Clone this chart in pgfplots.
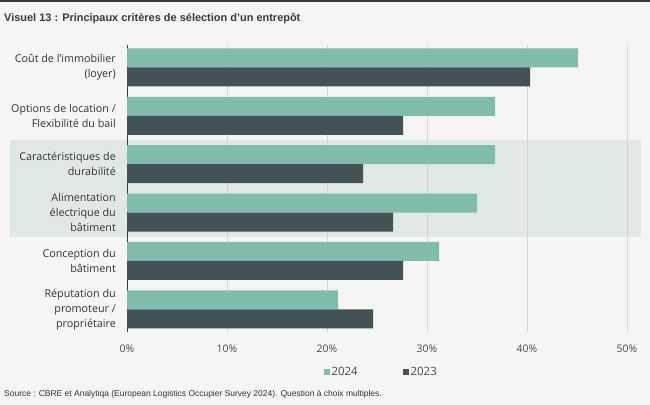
\documentclass[border=0pt]{standalone}
\usepackage{pgfplots}
\pgfplotsset{compat=1.18}
\usepackage{fontspec}
\setmainfont{Open Sans}
\newfontfamily\titlefont{Liberation Sans}
\newfontfamily\srcfont{Liberation Sans}

\definecolor{bgcol}{HTML}{F5F5F5}
\definecolor{bandcol}{HTML}{DFE8E6}
\definecolor{c2024}{HTML}{80BCAB}
\definecolor{c2023}{HTML}{435255}
\definecolor{gridcol}{HTML}{D4D4D4}
\definecolor{axiscol}{HTML}{3A3A3A}
\definecolor{labcol}{HTML}{333333}
\definecolor{tickcol}{HTML}{4A4A4A}

% 0 = Coût ... 5 = Réputation
\pgfplotstableread{
cat v2024 v2023
0 45.1 40.3
1 36.8 27.6
2 36.8 23.6
3 35.0 26.6
4 31.2 27.6
5 21.1 24.6
}\crit

\begin{document}
\begin{tikzpicture}
% page, top rule, highlighted band
\fill[bgcol] (0bp,0bp) rectangle (650bp,-405bp);
\fill[axiscol] (0bp,0bp) rectangle (650bp,-2bp);
\fill[bandcol] (10bp,-140bp) rectangle (641bp,-237bp);

\node[anchor=base west, inner sep=0pt, text=axiscol]
  at (4bp,-21.5bp) {\titlefont\fontsize{11}{13}\selectfont\bfseries Visuel 13 : Principaux critères de sélection d’un entrepôt};

\begin{axis}[
    at={(127bp,-332bp)}, anchor=south west,
    scale only axis,
    width=513bp, height=287bp,
    xbar, bar width=19bp,
    xmin=0, xmax=51.3,
    ymin=-0.465, ymax=5.47,
    y dir=reverse,
    axis line style={draw=none},
    major tick length=0pt,
    xtick={0,10,20,30,40,50},
    xticklabels={0\%,10\%,20\%,30\%,40\%,50\%},
    xmajorgrids,
    grid style={gridcol, line width=0.6bp},
    extra x ticks={0},
    extra x tick labels={},
    extra x tick style={grid style={axiscol, line width=0.8bp}},
    xticklabel style={font=\fontsize{10.5}{12}\selectfont, text=tickcol, inner sep=0pt, yshift=-12.5bp},
    ytick={0,1,2,3,4,5},
    yticklabels={
      {Coût de l'immobilier\\(loyer)},
      {Options de location /\\Flexibilité du bail},
      {Caractéristiques de\\durabilité},
      {Alimentation\\électrique du\\bâtiment},
      {Conception du\\bâtiment},
      {Réputation du\\promoteur /\\propriétaire}},
    yticklabel style={align=right, font=\fontsize{10.8}{15}\selectfont, text=labcol, inner sep=0pt, xshift=-11bp},
    legend style={at={(0.495,-0.139)}, anchor=center, draw=none, fill=none,
      font=\fontsize{11.5}{13}\selectfont, text=tickcol,
      nodes={inner sep=1.2bp},
      /tikz/every even column/.append style={column sep=44bp}},
    legend columns=2,
    legend image code/.code={\fill[#1] (0bp,-3.2bp) rectangle (6.5bp,3.2bp);},
]
\addplot[fill=c2024, draw=none, bar shift=9.5bp] table[x=v2024, y=cat] {\crit};
\addplot[fill=c2023, draw=none, bar shift=-9.5bp] table[x=v2023, y=cat] {\crit};
\legend{2024, 2023}
\end{axis}

\node[anchor=base west, inner sep=0pt, text=labcol]
  at (4bp,-396bp) {\srcfont\fontsize{8.5}{10}\selectfont Source : CBRE et Analytiqa (European Logistics Occupier Survey 2024). Question à choix multiples.};
\end{tikzpicture}
\end{document}
